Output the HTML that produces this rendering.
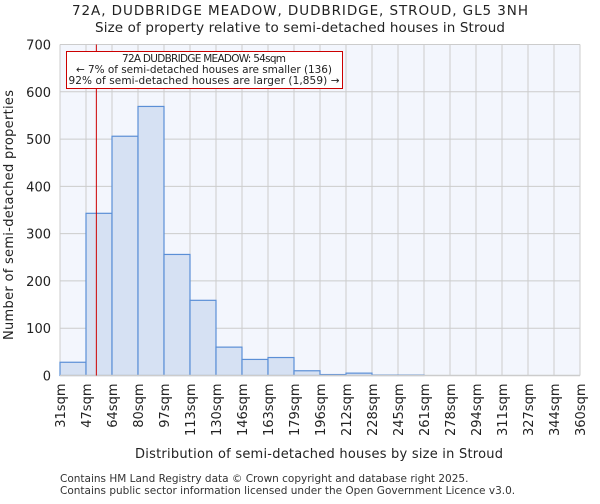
<!DOCTYPE html>
<html><head><meta charset="utf-8"><style>
body{margin:0;background:#fff;font-family:"DejaVu Sans","Liberation Sans",sans-serif}
text{font-family:"DejaVu Sans","Liberation Sans",sans-serif}
</style></head><body>
<svg id="chart" width="600" height="500" xmlns="http://www.w3.org/2000/svg">
<text x="300" y="15" text-anchor="middle" font-size="13.5" fill="#222" textLength="456">72A, DUDBRIDGE MEADOW, DUDBRIDGE, STROUD, GL5 3NH</text>
<text x="300" y="32" text-anchor="middle" font-size="13.5" fill="#222" textLength="410">Size of property relative to semi-detached houses in Stroud</text>
<rect x="60" y="44.5" width="520" height="331" fill="#f3f6fd"/>
<g id="grid"></g><g id="bars"></g><g id="axes"></g>
<text x="319" y="458" text-anchor="middle" font-size="13" fill="#222" textLength="368">Distribution of semi-detached houses by size in Stroud</text>
<text transform="translate(13,215) rotate(-90)" text-anchor="middle" font-size="13" fill="#222" textLength="250">Number of semi-detached properties</text>
<text x="60" y="482" font-size="10.5" fill="#333">Contains HM Land Registry data © Crown copyright and database right 2025.</text>
<text x="60" y="494" font-size="10.5" fill="#333">Contains public sector information licensed under the Open Government Licence v3.0.</text>
</svg>
<script>
const labels=["31sqm","47sqm","64sqm","80sqm","97sqm","113sqm","130sqm","146sqm","163sqm","179sqm","196sqm","212sqm","228sqm","245sqm","261sqm","278sqm","294sqm","311sqm","327sqm","344sqm","360sqm"];
const counts=[28,343,506,569,256,159,60,34,38,10,2,5,1,1,0,0,0,0,0,0];
const yTicks=[0,100,200,300,400,500,600,700];
const binStart=31, binWidth=16.45;
const propertySize=54;
const NS="http://www.w3.org/2000/svg";
const X0=60,X1=580,Y0=375.5,Y1=44.5;
const xs=i=>X0+i*(X1-X0)/counts.length;
const xv=v=>X0+(v-binStart)/binWidth*(X1-X0)/counts.length;
const ys=v=>Y0-v/700*(Y0-Y1);
function mk(t,a,p){const e=document.createElementNS(NS,t);for(const k in a)e.setAttribute(k,a[k]);p.appendChild(e);return e;}
const grid=document.getElementById('grid'),bars=document.getElementById('bars'),axes=document.getElementById('axes');
yTicks.forEach(v=>{
const l=mk('line',{x1:X0,x2:X1,y1:ys(v),y2:ys(v),stroke:'#ccc','stroke-width':1},grid);


const t=mk('text',{x:X0-9,y:ys(v)+5,'text-anchor':'end','font-size':13,fill:'#222'},axes);t.textContent=v;


});
labels.forEach((s,i)=>{
const x=xs(i);
const l=mk('line',{x1:x,x2:x,y1:Y1,y2:Y0,stroke:'#ccc','stroke-width':1},grid);


const t=mk('text',{transform:`translate(${x+5},${Y0+8}) rotate(-90)`,'text-anchor':'end','font-size':13,fill:'#222'},axes);t.textContent=s;


});
counts.forEach((c,i)=>{
const r=mk('rect',{x:xs(i),y:ys(c),width:xs(i+1)-xs(i),height:Y0-ys(c),fill:'#d6e1f3',stroke:'#5b8fd6','stroke-width':1.2},bars);


});
const ax=mk('line',{x1:X0,x2:X1,y1:Y0,y2:Y0,stroke:'#ccc','stroke-width':1.5},axes);


const px=xv(propertySize);
const m=mk('line',{x1:px,x2:px,y1:Y1,y2:Y0,stroke:'#cc0000','stroke-width':1},axes);


const g=mk('g',{},axes);


mk('rect',{x:66.5,y:51.5,width:276,height:37,fill:'#fff',stroke:'#cc0000','stroke-width':1},g);
[["72A DUDBRIDGE MEADOW: 54sqm",62,164],["← 7% of semi-detached houses are smaller (136)",73,256],["92% of semi-detached houses are larger (1,859) →",84,271]].forEach(([s,y,w])=>{
const t=mk('text',{x:204,y:y,'text-anchor':'middle','font-size':10.5,fill:'#222',textLength:w},g);t.textContent=s;


});
</script>
</body></html>
